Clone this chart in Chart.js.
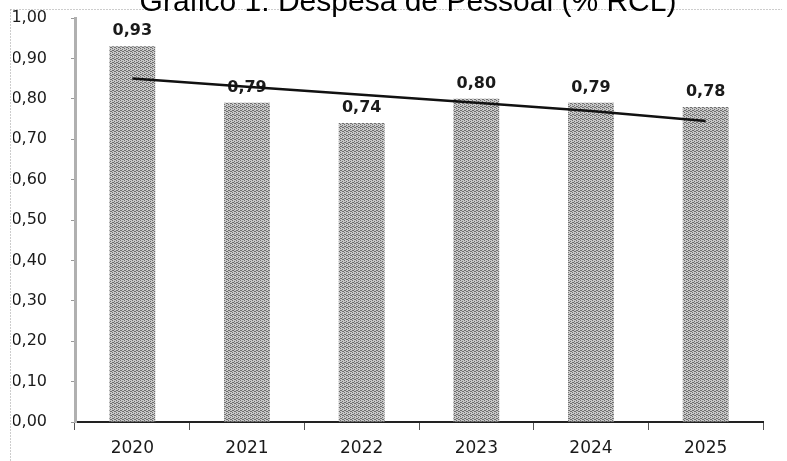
<!DOCTYPE html>
<html>
<head>
<meta charset="utf-8">
<script src="https://cdn.jsdelivr.net/npm/chart.js@4"></script>
<style>
  body { margin: 0; background: #fff; }
</style>
</head>
<body>
<canvas id="chartDespesa" width="787" height="461"></canvas>
<script>
var anos = ["2020", "2021", "2022", "2023", "2024", "2025"];
var despesa = [0.93, 0.79, 0.74, 0.80, 0.79, 0.78];
var tendencia = [0.85, 0.83, 0.81, 0.79, 0.77, 0.745];
var titulo = "Gráfico 1: Despesa de Pessoal (% RCL)";

function virgula(v) {
    return Number(v).toFixed(2).replace(".", ",");
}

// textura cinza das barras (meio-tom)
function textura() {
    var c = document.createElement("canvas");
    c.width = 4;
    c.height = 4;
    var g = c.getContext("2d");
    g.fillStyle = "#c8c8c8";
    g.fillRect(0, 0, 4, 4);
    g.fillStyle = "#6e6e6e";
    [[0, 0], [2, 1], [1, 2], [3, 3], [2, 3], [0, 2]].forEach(function (p) {
        g.fillRect(p[0], p[1], 1, 1);
    });
    return g.createPattern(c, "repeat");
}

var moldura = {
    id: "moldura",
    beforeDraw: function (chart) {
        var ctx = chart.ctx;
        ctx.save();
        ctx.strokeStyle = "#9a9a9a";
        ctx.lineWidth = 1;
        ctx.setLineDash([1, 2]);
        ctx.beginPath();
        ctx.moveTo(10.5, 9.5);
        ctx.lineTo(782, 9.5);
        ctx.moveTo(10.5, 9.5);
        ctx.lineTo(10.5, 461);
        ctx.stroke();
        ctx.restore();
    },
    afterDraw: function (chart) {
        var ctx = chart.ctx;
        ctx.save();
        ctx.fillStyle = "#000";
        ctx.font = "30px 'Liberation Sans', Arial, sans-serif";
        ctx.textAlign = "center";
        ctx.textBaseline = "alphabetic";
        ctx.fillText(titulo, 408, 11);
        ctx.restore();
    }
};

var rotulos = {
    id: "rotulos",
    afterDatasetDraw: function (chart, args) {
        if (args.index !== 0) return;
        var ctx = chart.ctx;
        ctx.save();
        ctx.fillStyle = "#1a1a1a";
        ctx.font = "bold 16px 'DejaVu Sans', Verdana, sans-serif";
        ctx.textAlign = "center";
        ctx.textBaseline = "alphabetic";
        args.meta.data.forEach(function (bar, i) {
            ctx.fillText(virgula(despesa[i]), bar.x, bar.y - 11);
        });
        ctx.restore();
    }
};

var graficoDespesa = new Chart(document.getElementById("chartDespesa"), {
    type: "bar",
    data: {
        labels: anos,
        datasets: [
            {
                label: "Despesa de Pessoal",
                data: despesa,
                backgroundColor: textura(),
                borderWidth: 0,
                categoryPercentage: 0.8,
                barPercentage: 0.5,
                order: 1
            },
            {
                type: "line",
                label: "Tendência",
                data: tendencia,
                borderColor: "#111",
                borderWidth: 2.5,
                pointRadius: 0,
                tension: 0,
                fill: false,
                order: 0
            }
        ]
    },
    options: {
        responsive: false,
        animation: false,
        layout: {
            padding: { left: 13, right: 24, top: 18, bottom: 0 }
        },
        plugins: {
            legend: { display: false },
            tooltip: { enabled: false },
            title: { display: false }
        },
        scales: {
            x: {
                grid: {
                    offset: true,
                    drawOnChartArea: false,
                    tickLength: 8,
                    color: "#555"
                },
                border: { color: "#222", width: 2 },
                ticks: {
                    padding: 8,
                    color: "#1a1a1a",
                    font: { family: "'DejaVu Sans', Verdana, sans-serif", size: 17 }
                },
                afterFit: function (s) { s.height = 39; }
            },
            y: {
                min: 0,
                max: 1,
                grid: {
                    drawOnChartArea: false,
                    tickLength: 4,
                    color: "#999"
                },
                border: { color: "#b0b0b0", width: 3 },
                ticks: {
                    stepSize: 0.1,
                    padding: 24,
                    color: "#1a1a1a",
                    font: { family: "'DejaVu Sans', Verdana, sans-serif", size: 16 },
                    callback: function (v) { return virgula(v); }
                },
                afterFit: function (s) {
                    s.width = 62;
                    s.paddingTop = 0;
                    s.paddingBottom = 0;
                }
            }
        }
    },
    plugins: [moldura, rotulos]
});
</script>
</body>
</html>
